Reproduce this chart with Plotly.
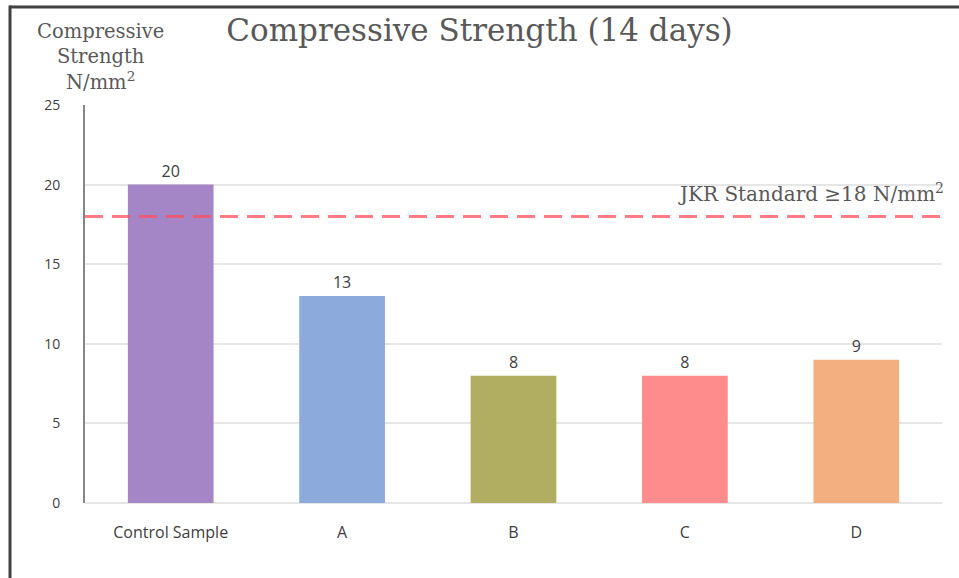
import plotly.graph_objects as go

# Compressive strength at 14 days, N/mm²
samples = ["Control Sample", "A", "B", "C", "D"]
strength = [20, 13, 8, 8, 9]
bar_colors = ["#A485C5", "#8DAADC", "#B1AE62", "#FF8C8C", "#F4AF80"]
y_ticks = [0, 5, 10, 15, 20, 25]
jkr_standard = 18

fig = go.Figure()

fig.add_trace(go.Bar(
    x=samples,
    y=strength,
    marker=dict(color=bar_colors, line=dict(width=0)),
    text=[str(v) for v in strength],
    textposition="outside",
    textfont=dict(family="Open Sans", size=16, color="#404040"),
    cliponaxis=False,
    showlegend=False,
))

# JKR standard reference line across the plot width
fig.add_shape(
    type="line", xref="paper", yref="y",
    x0=0.0, x1=1.0, y0=jkr_standard, y1=jkr_standard,
    line=dict(color="rgba(255,80,95,0.75)", width=3, dash="18px,9px"),
    layer="above",
)

fig.add_annotation(
    x=1.005, xref="paper", xanchor="right",
    y=jkr_standard, yref="y", yanchor="bottom", yshift=8,
    text="JKR Standard ≥18 N/mm<sup>2</sup>",
    showarrow=False,
    font=dict(family="DejaVu Serif", size=20, color="#595959"),
)

# Axis title stacked above the value axis
fig.add_annotation(
    x=0.018, xref="paper", xanchor="center",
    y=1.022, yref="paper", yanchor="bottom",
    text="Compressive<br>Strength<br>N/mm<sup>2</sup>",
    showarrow=False,
    align="center",
    font=dict(family="DejaVu Serif", size=19.5, color="#595959"),
)

# Frame lines along the top and left edge
fig.add_shape(type="line", xref="paper", yref="paper",
              x0=-0.088, x1=1.03, y0=1.246, y1=1.246,
              line=dict(color="#404040", width=3))
fig.add_shape(type="line", xref="paper", yref="paper",
              x0=-0.0875, x1=-0.0875, y0=1.25, y1=-0.2,
              line=dict(color="#404040", width=3))

fig.update_layout(
    width=959, height=578,
    margin=dict(l=85, r=17, t=105, b=75),
    paper_bgcolor="white",
    plot_bgcolor="white",
    bargap=0.5,
    title=dict(
        text="Compressive Strength (14 days)",
        x=0.5, xanchor="center", xref="container",
        y=0.948, yref="container", yanchor="middle",
        font=dict(family="DejaVu Serif", size=31, color="#595959"),
    ),
    xaxis=dict(
        range=[-0.5, 4.5],
        showline=False,
        showgrid=False,
        ticks="",
        tickfont=dict(family="Open Sans", size=16, color="#404040"),
        ticklabelstandoff=18,
    ),
    yaxis=dict(
        range=[0, 25],
        tickvals=y_ticks,
        showline=True,
        linecolor="#868686",
        linewidth=2,
        showgrid=True,
        gridcolor="#E6E6E6",
        gridwidth=2,
        zeroline=True,
        zerolinecolor="#E6E6E6",
        zerolinewidth=2,
        ticks="",
        tickfont=dict(family="Open Sans", size=14, color="#404040"),
        ticklabelstandoff=20,
    ),
)

fig.write_html("out.html")
